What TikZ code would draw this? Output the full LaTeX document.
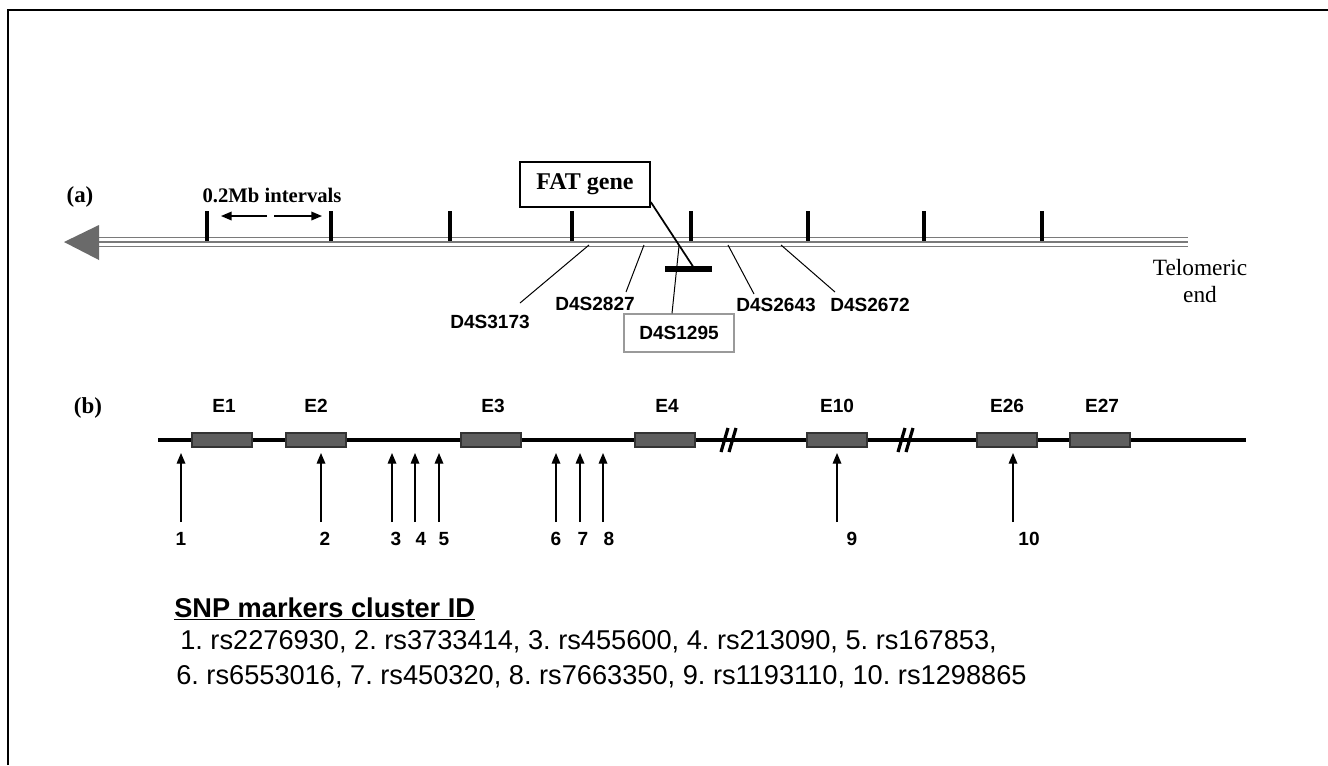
\documentclass[tikz,border=0pt]{standalone}
\usepackage{fontspec}
\setmainfont{Liberation Serif}
\setsansfont{Liberation Sans}
\usetikzlibrary{arrows.meta}
\frenchspacing
\definecolor{chromgray}{HTML}{7A7A7A}
\definecolor{headgray}{HTML}{6A6A6A}
\definecolor{exonfill}{HTML}{5E5E5E}
\definecolor{exonline}{HTML}{333333}
\definecolor{boxgray}{HTML}{9A9A9A}
\tikzset{
  serifb/.style={font=\rmfamily\bfseries\fontsize{17.2}{19}\selectfont, inner sep=0pt},
  intlab/.style={font=\rmfamily\bfseries\fontsize{15.5}{17}\selectfont, inner sep=0pt},
  fatbox/.style={draw=black, line width=1.3pt, fill=white, minimum width=97.5pt, minimum height=33.75pt, inner sep=0pt, font=\rmfamily\bfseries\fontsize{18}{20}\selectfont},
  graybox/.style={draw=boxgray, line width=0.9pt, fill=white, minimum width=82.5pt, minimum height=28.5pt, inner sep=0pt, font=\sffamily\bfseries\fontsize{14.3}{16}\selectfont},
  mlab/.style={font=\sffamily\bfseries\fontsize{14.3}{16}\selectfont, inner sep=0pt},
  mline/.style={draw=black, line width=0.75pt},
  chrom/.style={draw=chromgray, line width=1.4pt},
  ticker/.style={draw=black, line width=2.6pt},
  intarrow/.style={draw=black, line width=1.1pt, -{Triangle[length=8pt,width=6.5pt]}},
  exon/.style={draw=exonline, line width=0.8pt, fill=exonfill, minimum width=45pt, minimum height=10.5pt, inner sep=0pt},
  elab/.style={font=\sffamily\bfseries\fontsize{14.3}{16}\selectfont, inner sep=0pt},
  genel/.style={draw=black, line width=3pt},
  brk/.style={draw=black, line width=2.4pt},
  snp/.style={draw=black, line width=0.9pt, -{Triangle[length=8pt,width=6.5pt]}},
  num/.style={font=\sffamily\bfseries\fontsize{14.3}{16}\selectfont, inner sep=0pt},
  telo/.style={font=\rmfamily\fontsize{17.5}{20.25}\selectfont, align=center, inner sep=0pt},
  legend/.style={anchor=west, inner sep=0pt, font=\sffamily\fontsize{20.4}{24}\selectfont},
}
\begin{document}
\begin{tikzpicture}[x=0.75pt,y=-0.75pt]
\useasboundingbox (0,0) rectangle (1328,765);
\fill[white] (0,0) rectangle (1328,765);
\draw[line width=1.5pt] (8,765) -- (8,10) -- (1328,10);

% ---------- (a) ----------
\node[serifb] (la) at (80,197) {(a)};
\node[intlab] (intv) at (272,195) {0.2Mb intervals};
\coordinate (ia1) at (267,216);
\coordinate (ia2) at (221,216);
\coordinate (ib1) at (274,216);
\coordinate (ib2) at (322,216);
\draw[intarrow] (ia1) -- (ia2);
\draw[intarrow] (ib1) -- (ib2);

% chromosome
\foreach \yy in {237.5,242,246.5} \draw[chrom] (97,\yy) -- (1188,\yy);
\fill[headgray] (64,242) -- (99,225) -- (99,260) -- cycle;
\foreach \xx in {207,331,450,572,691,808,924,1042} \draw[ticker] (\xx,211) -- (\xx,241);

% FAT gene
\node[fatbox] (fat) at (585,184.5) {FAT gene};
\coordinate (fatbar) at (694,268);
\draw[line width=1.3pt] (fat.-15) -- (fatbar);
\draw[line width=4.5pt] (665,269) -- (712,269);

% markers
\coordinate (m3173) at (589,245);
\coordinate (m2827) at (644,245);
\coordinate (m1295) at (679,246);
\coordinate (m2643) at (728,245);
\coordinate (m2672) at (781,245);
\coordinate (e3173) at (520,303);
\coordinate (e2827) at (626,292);
\coordinate (e2643) at (754,294);
\coordinate (e2672) at (835,292);
\node[mlab] (d3173) at (490,322) {D4S3173};
\node[mlab] (d2827) at (595,304) {D4S2827};
\node[mlab] (d2643) at (776,305) {D4S2643};
\node[mlab] (d2672) at (870,305) {D4S2672};
\node[graybox] (d1295) at (679,333) {D4S1295};
\draw[mline] (m3173) -- (e3173);
\draw[mline] (m2827) -- (e2827);
\draw[mline] (m2643) -- (e2643);
\draw[mline] (m2672) -- (e2672);
\draw[mline] (m1295) -- ([xshift=-5.25pt]d1295.north);

\node[telo] (telo) at (1200,281) {Telomeric\\end};

% ---------- (b) ----------
\node[serifb] (lb) at (88,408) {(b)};
\draw[genel] (158,440) -- (1246,440);
\foreach \xx in {721,898} {
  \draw[brk] (\xx,452) -- (\xx+7,428);
  \draw[brk] (\xx+8,452) -- (\xx+15,428);
}
\foreach \nm/\xx/\lx in {E1/222/224, E2/316/316, E3/491/493, E4/665/667, E10/837/837, E26/1007/1007, E27/1100/1102} {
  \node[exon] (ex\nm) at (\xx,440) {};
  \node[elab] (lab\nm) at (\lx,406) {\nm};
}

\foreach \i/\xx/\lx in {1/181/181, 2/321/325, 3/392/396, 4/415/421, 5/439/444, 6/556/556, 7/580/583, 8/603/609, 9/837/852, 10/1013/1029} {
  \coordinate (sb\i) at (\xx,522);
  \coordinate (st\i) at (\xx,453);
  \draw[snp] (sb\i) -- (st\i);
  \node[num] (n\i) at (\lx,539) {\i};
}

% ---------- legend ----------
\node[legend, font=\sffamily\bfseries\fontsize{20.4}{24}\selectfont] (hdr) at (174,609) {\underline{SNP markers cluster ID}};
\node[legend] (l1) at (180,642) {1. rs2276930, 2. rs3733414, 3. rs455600, 4. rs213090, 5. rs167853,};
\node[legend] (l2) at (176,677) {6. rs6553016, 7. rs450320, 8. rs7663350, 9. rs1193110, 10. rs1298865};
\end{tikzpicture}
\end{document}
